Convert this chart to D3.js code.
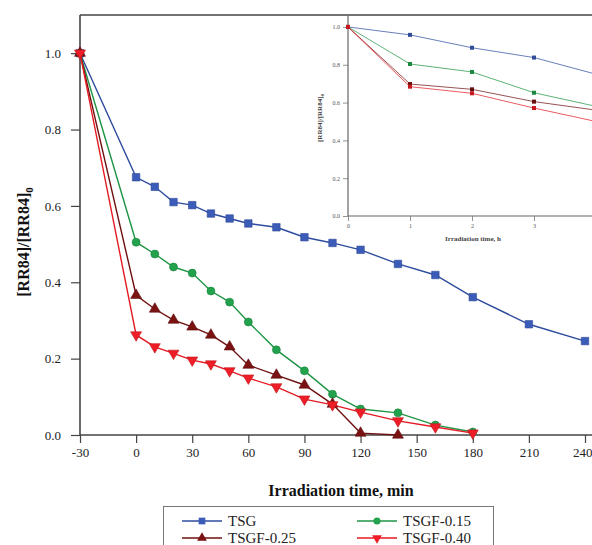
<!DOCTYPE html>
<html>
<head>
<meta charset="utf-8">
<script src="https://cdn.jsdelivr.net/npm/d3@7"></script>
<style>
  html, body { margin: 0; padding: 0; background: #fff; }
  svg { display: block; }
</style>
</head>
<body>
<script>
// main plot data (minutes)
const timeMin = [-30, 0, 10, 20, 30, 40, 50, 60, 75, 90, 105, 120, 140, 160, 180, 210, 240];
const tsg    = [1.0, 0.675, 0.65, 0.61, 0.602, 0.58, 0.567, 0.554, 0.544, 0.518, 0.503, 0.485, 0.448, 0.419, 0.361, 0.29, 0.246];
const tsgf15 = [1.0, 0.505, 0.474, 0.44, 0.424, 0.377, 0.348, 0.296, 0.223, 0.168, 0.107, 0.068, 0.058, 0.026, 0.008, null, null];
const tsgf25 = [1.0, 0.366, 0.33, 0.301, 0.283, 0.262, 0.231, 0.183, 0.157, 0.131, 0.081, 0.005, 0.0, null, null, null, null];
const tsgf40 = [1.0, 0.262, 0.231, 0.214, 0.196, 0.186, 0.168, 0.149, 0.126, 0.094, 0.079, 0.06, 0.037, 0.021, 0.005, null, null];

// inset data (hours)
const timeH = [0, 1, 2, 3, 4];
const insetTsg = [1.0, 0.958, 0.89, 0.838, 0.75];
const insetF15 = [1.0, 0.804, 0.762, 0.652, 0.58];
const insetF25 = [1.0, 0.698, 0.67, 0.605, 0.56];
const insetF40 = [1.0, 0.684, 0.649, 0.571, 0.50];

const seriesNames = ["TSG", "TSGF-0.15", "TSGF-0.25", "TSGF-0.40"];
const xTicks = [-30, 0, 30, 60, 90, 120, 150, 180, 210, 240];
const yTicks = [0.0, 0.2, 0.4, 0.6, 0.8, 1.0];
const insetXLabels = [0, 1, 2, 3];

const width = 592, height = 545;
const font = "'Liberation Serif', 'Times New Roman', serif";
const axisColor = "#444";

const series = [
  { name: seriesNames[0], main: tsg, inset: insetTsg, color: "#3b5cb8", line: "#2e4c9e", symbol: d3.symbolSquare, size: 56, rot: 0 },
  { name: seriesNames[1], main: tsgf15, inset: insetF15, color: "#22a24c", line: "#1e9444", symbol: d3.symbolCircle, size: 50, rot: 0 },
  { name: seriesNames[2], main: tsgf25, inset: insetF25, color: "#7a1212", line: "#6e1010", symbol: d3.symbolTriangle, size: 52, rot: 0 },
  { name: seriesNames[3], main: tsgf40, inset: insetF40, color: "#ee1d27", line: "#e41a22", symbol: d3.symbolTriangle, size: 52, rot: 180 },
];

const svg = d3.select("body").append("svg")
  .attr("width", width)
  .attr("height", height)
  .attr("viewBox", [0, 0, width, height]);

// scales
const x = d3.scaleLinear().domain([-30, 240]).range([80, 585]);
const y = d3.scaleLinear().domain([0, 1.1]).range([435, 15]);

// frame: top border
svg.append("line")
  .attr("x1", x.range()[0]).attr("x2", width + 5)
  .attr("y1", y(1.1)).attr("y2", y(1.1))
  .attr("stroke", axisColor).attr("stroke-width", 1.6);

// axes with minor ticks
const xAxisG = svg.append("g").attr("transform", `translate(0,${y(0)})`);
xAxisG.call(d3.axisBottom(x).tickValues(d3.range(-15, 241, 30)).tickSize(4).tickFormat(""));
xAxisG.call(d3.axisBottom(x).tickValues(xTicks).tickSize(8).tickPadding(5).tickFormat((d) => String(d)));
xAxisG.selectAll(".domain").attr("stroke", axisColor).attr("stroke-width", 1.6)
  .attr("d", `M${x.range()[0]},0H${width + 5}`);
xAxisG.selectAll(".tick line").attr("stroke", axisColor).attr("stroke-width", 1.2);
xAxisG.selectAll(".tick text").attr("font-family", font).attr("font-size", 13).attr("fill", "#222");
// keep the last label inside the window
xAxisG.selectAll(".tick text").filter((d) => d === 240).attr("text-anchor", "end").attr("dx", 7);

const yAxisG = svg.append("g").attr("transform", `translate(${x(-30)},0)`);
yAxisG.call(d3.axisLeft(y).tickValues([0.1, 0.3, 0.5, 0.7, 0.9]).tickSize(4).tickFormat(""));
yAxisG.call(d3.axisLeft(y).tickValues(yTicks).tickSize(9).tickPadding(10).tickFormat(d3.format(".1f")));
yAxisG.selectAll(".domain").attr("stroke", axisColor).attr("stroke-width", 1.6)
  .attr("d", `M0,${y(0)}V${y(1.1)}`);
yAxisG.selectAll(".tick line").attr("stroke", axisColor).attr("stroke-width", 1.2);
yAxisG.selectAll(".tick text").attr("font-family", font).attr("font-size", 13).attr("fill", "#222");

// axis titles
svg.append("text")
  .attr("x", 341).attr("y", 496)
  .attr("text-anchor", "middle")
  .attr("font-family", font).attr("font-size", 16).attr("font-weight", "bold")
  .attr("fill", "#111")
  .text("Irradiation time, min");

const yTitle = svg.append("text")
  .attr("transform", "translate(29,242) rotate(-90)")
  .attr("text-anchor", "middle")
  .attr("font-family", font).attr("font-size", 16).attr("font-weight", "bold")
  .attr("fill", "#111");
yTitle.append("tspan").text("[RR84]/[RR84]");
yTitle.append("tspan").attr("font-size", 11).attr("dy", 4).text("0");

// main series
const mainG = svg.append("g");
series.forEach((s) => {
  const pts = timeMin.map((t, i) => ({ t, v: s.main[i] })).filter((d) => d.v != null);
  mainG.append("path")
    .datum(pts)
    .attr("fill", "none")
    .attr("stroke", s.line)
    .attr("stroke-width", 1.4)
    .attr("d", d3.line().x((d) => x(d.t)).y((d) => y(d.v)));
  mainG.append("g")
    .selectAll("path")
    .data(pts)
    .join("path")
    .attr("transform", (d) => `translate(${x(d.t)},${y(d.v)}) rotate(${s.rot})`)
    .attr("d", d3.symbol(s.symbol, s.size))
    .attr("fill", s.color)
    .attr("stroke", d3.color(s.color).darker(0.6))
    .attr("stroke-width", 0.6);
});

// inset
const xi = d3.scaleLinear().domain([0, 4]).range([348, 596]);
const yi = d3.scaleLinear().domain([0, 1.06]).range([216, 15.6]);
const insetFont = 6;

svg.append("rect")
  .attr("x", xi(0)).attr("y", yi(1.06) + 1)
  .attr("width", width - xi(0)).attr("height", yi(0) - yi(1.06) - 1)
  .attr("fill", "#fff");

const xiG = svg.append("g").attr("transform", `translate(0,${yi(0)})`);
xiG.call(d3.axisBottom(xi).tickValues([0.5, 1.5, 2.5, 3.5]).tickSize(3).tickFormat(""));
xiG.call(d3.axisBottom(xi).tickValues(insetXLabels).tickSize(5).tickPadding(3).tickFormat(d3.format("d")));
xiG.selectAll(".domain").attr("stroke", "#666").attr("stroke-width", 1.2)
  .attr("d", `M${xi(0)},0H${width + 5}`);
xiG.selectAll(".tick line").attr("stroke", "#777").attr("stroke-width", 0.8);
xiG.selectAll(".tick text").attr("font-family", font).attr("font-size", insetFont).attr("fill", "#555");

const yiG = svg.append("g").attr("transform", `translate(${xi(0)},0)`);
yiG.call(d3.axisLeft(yi).tickValues([0.1, 0.3, 0.5, 0.7, 0.9]).tickSize(3).tickFormat(""));
yiG.call(d3.axisLeft(yi).tickValues(yTicks).tickSize(5).tickPadding(3).tickFormat(d3.format(".1f")));
yiG.selectAll(".domain").attr("stroke", "#666").attr("stroke-width", 1.2)
  .attr("d", `M0,${yi(0)}V${yi(1.06)}`);
yiG.selectAll(".tick line").attr("stroke", "#777").attr("stroke-width", 0.8);
yiG.selectAll(".tick text").attr("font-family", font).attr("font-size", insetFont).attr("fill", "#555");

svg.append("text")
  .attr("x", 473).attr("y", 241)
  .attr("text-anchor", "middle")
  .attr("font-family", font).attr("font-size", 7).attr("font-weight", "bold")
  .attr("fill", "#444")
  .text("Irradiation time, h");

const yiTitle = svg.append("text")
  .attr("transform", "translate(322,118) rotate(-90)")
  .attr("text-anchor", "middle")
  .attr("font-family", font).attr("font-size", 7).attr("font-weight", "bold")
  .attr("fill", "#444");
yiTitle.append("tspan").text("[RR84]/[RR84]");
yiTitle.append("tspan").attr("font-size", 5).attr("dy", 2).text("0");

const insetG = svg.append("g");
series.forEach((s) => {
  const pts = timeH.map((t, i) => ({ t, v: s.inset[i] }));
  insetG.append("path")
    .datum(pts)
    .attr("fill", "none")
    .attr("stroke", s.line)
    .attr("stroke-opacity", 0.8)
    .attr("stroke-width", 0.9)
    .attr("d", d3.line().x((d) => xi(d.t)).y((d) => yi(d.v)));
  insetG.append("g")
    .selectAll("rect")
    .data(pts)
    .join("rect")
    .attr("x", (d) => xi(d.t) - 2)
    .attr("y", (d) => yi(d.v) - 2)
    .attr("width", 4).attr("height", 4)
    .attr("fill", d3.color(s.color).darker(0.5));
});

// legend
const legend = svg.append("g");
legend.append("rect")
  .attr("x", 163.5).attr("y", 506.5)
  .attr("width", 330).attr("height", 50)
  .attr("fill", "#fff")
  .attr("stroke", "#777").attr("stroke-width", 1);

const legendPos = [[182, 521], [357, 521], [182, 538], [357, 538]];
series.forEach((s, i) => {
  const [lx, ly] = legendPos[i];
  const g = legend.append("g").attr("transform", `translate(${lx},${ly})`);
  g.append("line")
    .attr("x1", 0).attr("x2", 40)
    .attr("stroke", s.line).attr("stroke-width", 1.6);
  g.append("path")
    .attr("transform", `translate(20,0) rotate(${s.rot})`)
    .attr("d", d3.symbol(s.symbol, s.size * 0.8))
    .attr("fill", s.color);
  g.append("text")
    .attr("x", 46).attr("y", 5)
    .attr("font-family", font).attr("font-size", 15)
    .attr("fill", "#222")
    .text(s.name);
});
</script>
</body>
</html>
